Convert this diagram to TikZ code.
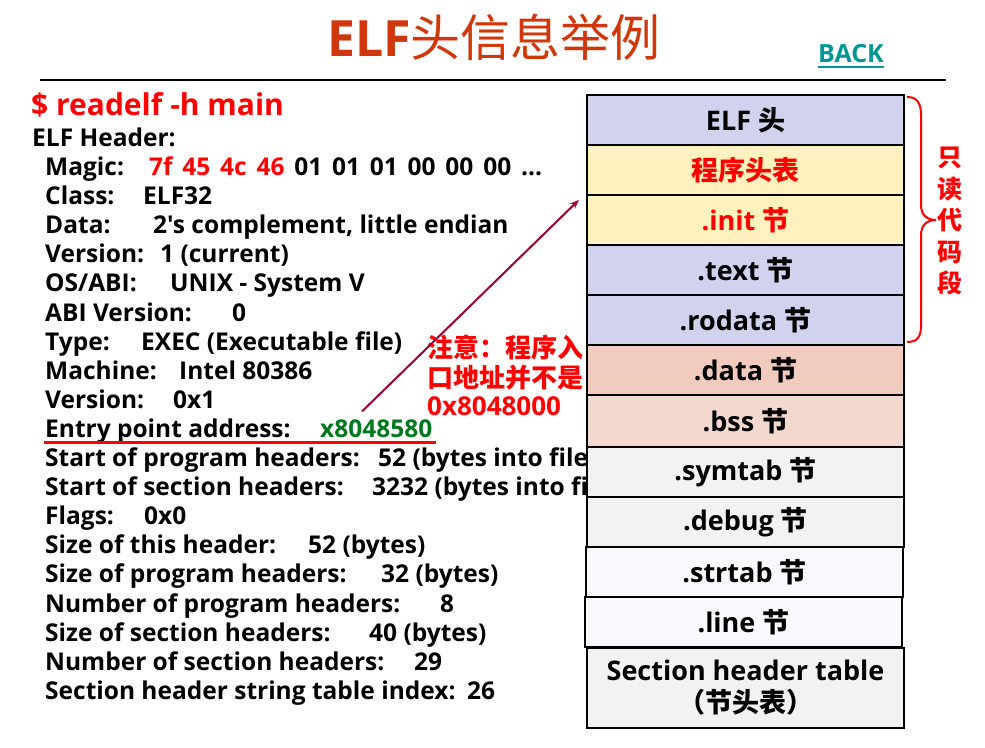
\documentclass[tikz,border=0pt]{standalone}
\usepackage{fontspec}
\setmainfont{Open Sans}[Ligatures=TeXOff]
\newfontfamily\cjk{Noto Sans CJK SC}
\usetikzlibrary{arrows.meta,calc}
\definecolor{titlec}{RGB}{208,55,10}
\definecolor{backc}{RGB}{0,150,150}
\definecolor{entryc}{RGB}{0,120,30}
\definecolor{arrc}{RGB}{153,0,51}
\definecolor{lav}{RGB}{208,210,238}
\definecolor{yel}{RGB}{255,242,190}
\definecolor{datac}{RGB}{241,203,189}
\definecolor{bssc}{RGB}{242,216,206}
\definecolor{grayc}{RGB}{242,242,242}
\definecolor{palec}{RGB}{248,248,253}
\newcommand\zh[1]{{\cjk #1}}
\begin{document}
\begin{tikzpicture}[x=1pt,y=-1pt,
  hdr/.style={anchor=base west, inner sep=0pt, font=\fontsize{24.5}{24.5}\selectfont\bfseries},
  secrow/.style={draw=black, line width=2.2pt, minimum width=317pt, minimum height=50pt,
    inner sep=0pt, font=\fontsize{27}{32}\selectfont\bfseries},
  note/.style={anchor=base west, inner sep=0pt, text=red, font=\fontsize{26}{26}\selectfont\bfseries}]
\useasboundingbox (0,0) rectangle (985,747);
\fill[white] (0,0) rectangle (985,747);

% title bar
\node[anchor=base west, inner sep=0pt, text=titlec,
  font=\fontsize{50}{50}\selectfont\bfseries] (title) at (327,56) {ELF{\cjk\mdseries 头信息举例}};
\node[anchor=base west, inner sep=0pt, text=backc,
  font=\fontsize{25}{25}\selectfont\bfseries] (back) at (818,62) {BACK};
\draw[backc, line width=1.5pt] ([yshift=-5pt]back.base west) -- ([yshift=-5pt]back.base east);
\coordinate (ruleL) at (40,80);
\coordinate (ruleR) at (946,80);
\draw[line width=1.2pt] (ruleL) -- (ruleR);

% readelf output
\node[anchor=base west, inner sep=0pt, text=red,
  font=\fontsize{30}{30}\selectfont\bfseries] (cmd) at (31,115) {\$ readelf -h main};
\node[hdr] (elfhdr) at (32,146) {ELF Header:};
\foreach \i/\lab/\vx/\val in {
  0/{Magic:}/149/{\spaceskip=0.4em\textcolor{red}{7f 45 4c 46} 01 01 01 00 00 00 ...},
  1/{Class:}/143/{ELF32},
  2/{Data:}/153/{2's complement, little endian},
  3/{Version:}/160/{1 (current)},
  4/{OS/ABI:}/170/{UNIX - System V},
  5/{ABI Version:}/232/{0},
  6/{Type:}/141/{EXEC (Executable file)},
  7/{Machine:}/179/{Intel 80386},
  8/{Version:}/173/{0x1},
  9/{Entry point address:}/320/{\textcolor{entryc}{x8048580}},
  10/{Start of program headers:}/378/{52 (bytes into file)},
  11/{Start of section headers:}/372/{3232 (bytes into file)},
  12/{Flags:}/144/{0x0},
  13/{Size of this header:}/308/{52 (bytes)},
  14/{Size of program headers:}/381/{32 (bytes)},
  15/{Number of program headers:}/440/{8},
  16/{Size of section headers:}/369/{40 (bytes)},
  17/{Number of section headers:}/414/{29},
  18/{Section header string table index:}/467/{26}}
{
  \node[hdr] (lab\i) at (45,175.5+29.1*\i) {\lab};
  \node[hdr] (val\i) at (\vx,175.5+29.1*\i) {\val};
}
\draw[red, line width=3.5pt] ([xshift=-1pt,yshift=-5pt]lab9.base west) -- ([xshift=4pt,yshift=-5pt]val9.base east);

% note
\node[note] (n1) at (427,357) {\zh{注意：程序入}};
\node[note] (n2) at (427,387) {\zh{口地址并不是}};
\node[note] (n3) at (427,415) {0x8048000};

% section table
\node[secrow, fill=lav] (r1) at (745.5,120) {ELF \zh{头}};
\node[secrow, fill=yel, text=red] (r2) at (745.5,170) {\zh{程序头表}};
\node[secrow, fill=yel, text=red] (r3) at (745.5,220) {.init \zh{节}};
\node[secrow, fill=lav] (r4) at (745.5,270) {.text \zh{节}};
\node[secrow, fill=lav] (r5) at (745.5,320) {.rodata \zh{节}};
\node[secrow, fill=datac] (r6) at (745.5,370) {.data \zh{节}};
\node[secrow, fill=bssc, minimum height=52pt] (r7) at (745.5,421) {.bss \zh{节}};
\node[secrow, fill=grayc] (r8) at (745.5,472) {.symtab \zh{节}};
\node[secrow, fill=grayc] (r9) at (745.5,522) {.debug \zh{节}};
\node[secrow, fill=palec] (r10) at (744.5,572) {.strtab \zh{节}};
\node[secrow, fill=palec] (r11) at (743.5,622) {.line \zh{节}};
\node[secrow, fill=grayc, minimum height=80pt, align=center] (r12) at (745.5,688)
  {Section header table\\\zh{（节头表）}};

% entry point arrow
\draw[arrc, line width=2pt, -{Stealth[length=9pt,width=7pt]}]
  ([xshift=42pt,yshift=8pt]val9.north west) -- ([xshift=-7pt,yshift=-6pt]r3.north west);

% read-only code segment brace
\draw[red, line width=2pt] (907,97) .. controls (917,97) and (921,103) .. (921,115)
  -- (921,205) .. controls (921,215) and (927,220) .. (936,220)
  .. controls (927,220) and (921,225) .. (921,235)
  -- (921,326) .. controls (921,337) and (917,342) .. (907,342);
\node[inner sep=0pt, text=red, align=center,
  font=\fontsize{25}{31.5}\selectfont\cjk\bfseries] (ro) at (950,221) {只\\读\\代\\码\\段};
\end{tikzpicture}
\end{document}
